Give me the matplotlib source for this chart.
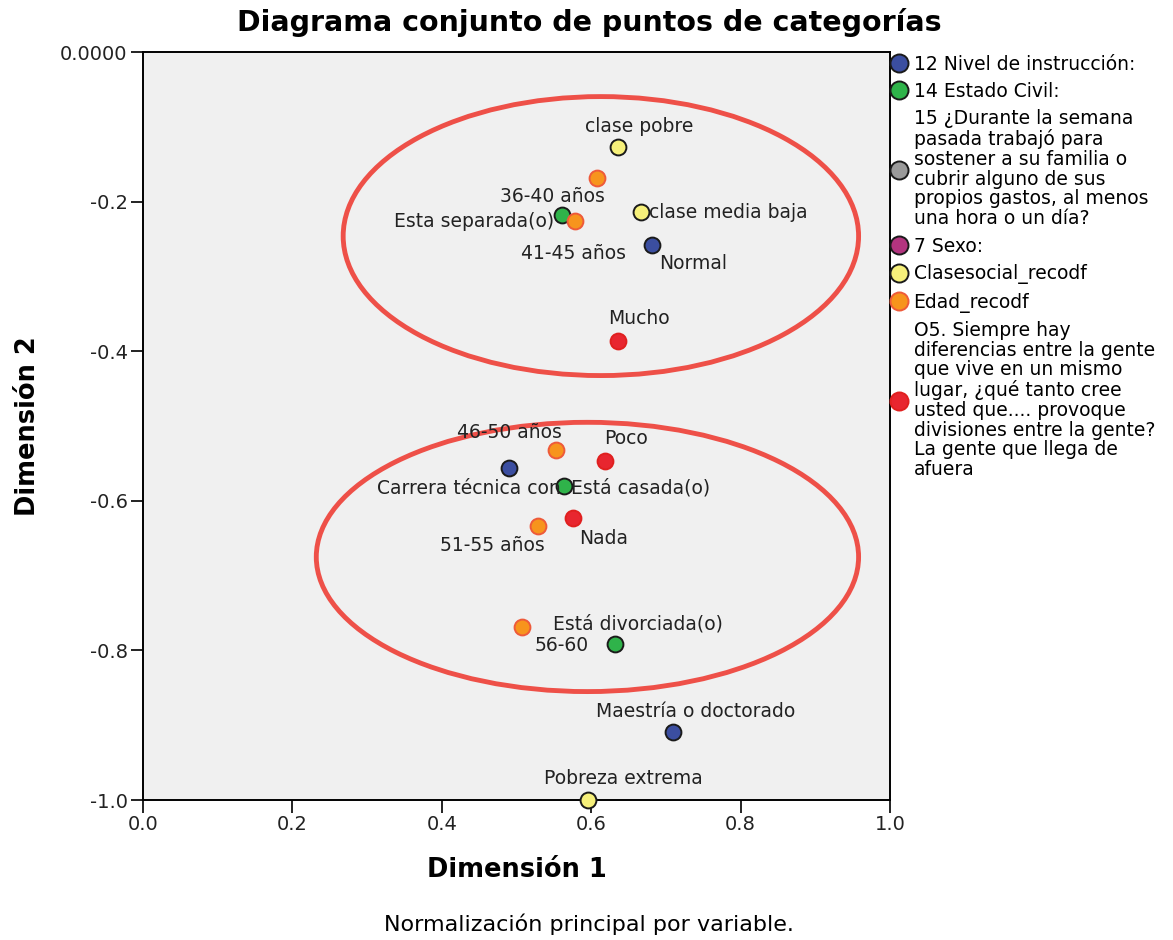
import matplotlib.pyplot as plt
from matplotlib.lines import Line2D
from matplotlib.patches import Ellipse

# legend variables and their colours
variables = ['12 Nivel de instrucción:',
             '14 Estado Civil:',
             '15 ¿Durante la semana\npasada trabajó para\nsostener a su familia o\ncubrir alguno de sus\n'
             'propios gastos, al menos\nuna hora o un día?',
             '7 Sexo:',
             'Clasesocial_recodf',
             'Edad_recodf',
             'O5. Siempre hay\ndiferencias entre la gente\nque vive en un mismo\nlugar, ¿qué tanto cree\n'
             'usted que.... provoque\ndivisiones entre la gente?\nLa gente que llega de\nafuera']
var_colors = ['#3b4ea0', '#2fb34a', '#9a9a9a', '#b3347f', '#f6f07a', '#f7941d', '#e8262f']

# category points
categories = ['clase pobre', '', 'Esta separada(o)', '', 'clase media baja', 'Normal', 'Mucho',
              '', 'Carrera técnica con', 'Poco', 'Está casada(o)', 'Nada', '', '',
              'Está divorciada(o)', 'Maestría o doctorado', 'Pobreza extrema']
cat_var = [4, 5, 1, 5, 4, 0, 6, 5, 0, 6, 1, 6, 5, 5, 1, 0, 4]
dim1 = [0.636, 0.608, 0.561, 0.579, 0.667, 0.682, 0.636, 0.553, 0.490, 0.619,
        0.564, 0.576, 0.529, 0.507, 0.632, 0.710, 0.596]
dim2 = [-0.127, -0.168, -0.218, -0.226, -0.214, -0.258, -0.386, -0.532, -0.556, -0.547,
        -0.580, -0.623, -0.634, -0.769, -0.791, -0.909, -1.000]

# label texts as SPSS placed them (text, x, y, ha)
labels = [('clase pobre', 0.664, -0.099, 'center'),
          ('36-40 años', 0.548, -0.193, 'center'),
          ('Esta separada(o)', 0.551, -0.227, 'right'),
          ('clase media baja', 0.677, -0.215, 'left'),
          ('41-45 años', 0.577, -0.269, 'center'),
          ('Normal', 0.691, -0.283, 'left'),
          ('Mucho', 0.664, -0.356, 'center'),
          ('46-50 años', 0.491, -0.509, 'center'),
          ('Poco', 0.647, -0.517, 'center'),
          ('Carrera técnica con', 0.559, -0.583, 'right'),
          ('Está casada(o)', 0.573, -0.583, 'left'),
          ('51-55 años', 0.468, -0.660, 'center'),
          ('Nada', 0.584, -0.650, 'left'),
          ('Está divorciada(o)', 0.662, -0.765, 'center'),
          ('56-60', 0.560, -0.793, 'center'),
          ('Maestría o doctorado', 0.740, -0.881, 'center'),
          ('Pobreza extrema', 0.643, -0.971, 'center')]

# hand-drawn ellipses (center x, center y, width, height)
ellipses = [(0.613, -0.246, 0.690, 0.373),
            (0.595, -0.675, 0.726, 0.360)]

fig = plt.figure(figsize=(11.73, 9.40), dpi=100)
ax = fig.add_axes([0.1219, 0.1489, 0.6368, 0.7957])
ax.set_facecolor('#f0f0f0')

for cx, cy, w, h in ellipses:
    ax.add_patch(Ellipse((cx, cy), w, h, fill=False, edgecolor='#ee5048', linewidth=3.5, zorder=2))

for x, y, v in zip(dim1, dim2, cat_var):
    ec = '#ee5a3a' if v == 5 else ('#e0201f' if v == 6 else '#1a1a1a')
    ax.scatter(x, y, s=130, color=var_colors[v], edgecolors=ec, linewidths=1.4,
               zorder=3, clip_on=False)

for txt, x, y, ha in labels:
    ax.text(x, y, txt, ha=ha, va='center', fontsize=13.5, color='#222222', zorder=4)

ax.set_xlim(0, 1)
ax.set_ylim(-1, 0)
ax.set_xticks([0, 0.2, 0.4, 0.6, 0.8, 1.0])
ax.set_xticklabels(['0.0', '0.2', '0.4', '0.6', '0.8', '1.0'])
ax.set_yticks([0, -0.2, -0.4, -0.6, -0.8, -1.0])
ax.set_yticklabels(['0.0000', '-0.2', '-0.4', '-0.6', '-0.8', '-1.0'])
ax.tick_params(labelsize=14, length=9, width=1.4, pad=2, direction='out', colors='#222222')
for sp in ax.spines.values():
    sp.set_linewidth(1.4)

fig.text(0.502, 0.976, 'Diagrama conjunto de puntos de categorías', ha='center', va='center',
         fontsize=20.5, fontweight='bold')
ax.set_xlabel('Dimensión 1', fontsize=18.5, fontweight='bold', labelpad=16)
ax.set_ylabel('Dimensión 2', fontsize=18.5, fontweight='bold', labelpad=14)

fig.text(0.502, 0.005, 'Normalización principal por variable.', ha='center', va='bottom', fontsize=16)

handles = [Line2D([], [], marker='o', linestyle='', markersize=13, markerfacecolor=c,
                  markeredgecolor='#ee5a3a' if i == 5 else ('#e0201f' if i == 6 else '#1a1a1a'),
                  markeredgewidth=1.4)
           for i, c in enumerate(var_colors)]
leg = fig.legend(handles, variables, loc='upper left', bbox_to_anchor=(0.758, 0.942),
                 frameon=False, fontsize=13.5, handlelength=1.0, handletextpad=0.3,
                 labelspacing=0.45, borderaxespad=0, borderpad=0)
for t in leg.get_texts():
    t.set_linespacing(1.05)

fig.savefig('out.png', dpi=100)
